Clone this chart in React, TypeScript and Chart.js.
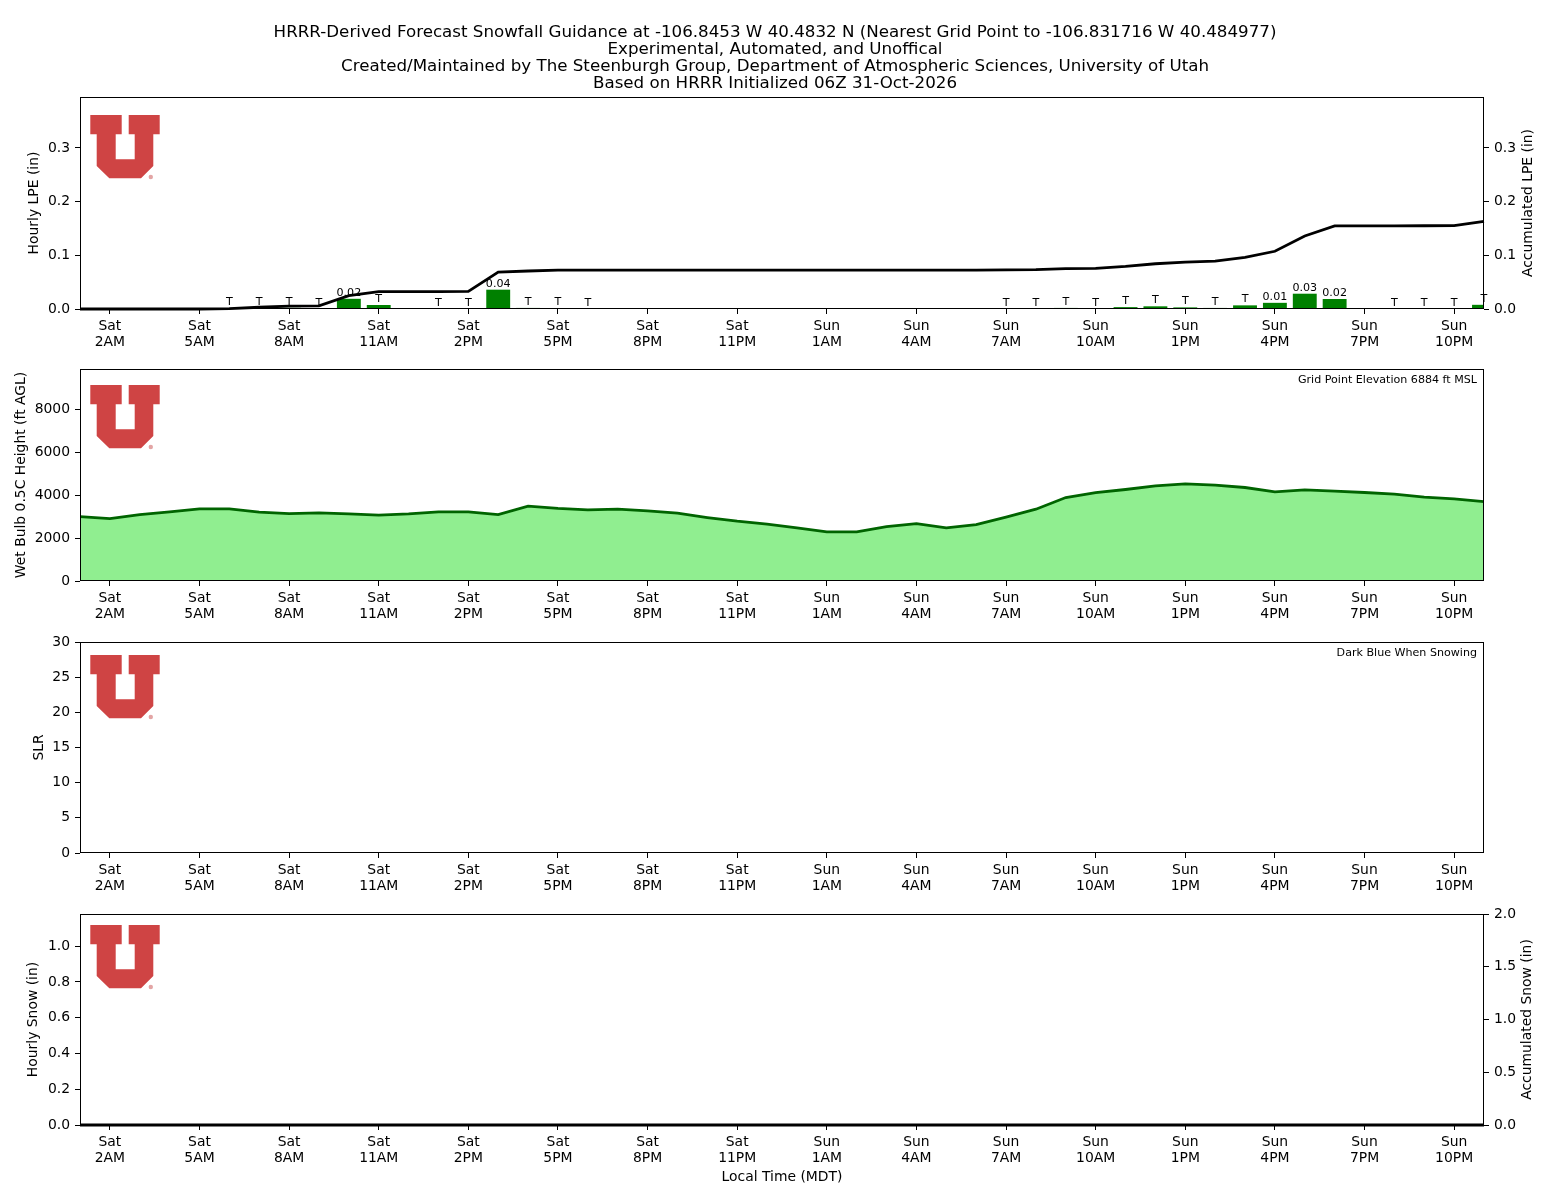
import { useEffect, useRef } from "react";
import { Chart, registerables } from "chart.js";

Chart.register(...registerables);

const FONT_FAMILY = "'DejaVu Sans', 'Liberation Sans', sans-serif";
Chart.defaults.font.family = FONT_FAMILY;
Chart.defaults.color = "#000";

// ---- data -------------------------------------------------------------

// Forecast hours f01..f48 (local Sat 1AM through the end of Sunday)
const forecastHours = [
  1, 2, 3, 4, 5, 6, 7, 8, 9, 10, 11, 12, 13, 14, 15, 16, 17, 18, 19, 20, 21, 22, 23, 24,
  25, 26, 27, 28, 29, 30, 31, 32, 33, 34, 35, 36, 37, 38, 39, 40, 41, 42, 43, 44, 45, 46, 47, 48,
];

const tickHours = [2, 5, 8, 11, 14, 17, 20, 23, 26, 29, 32, 35, 38, 41, 44, 47];
const tickLabels = [
  ["Sat", "2AM"], ["Sat", "5AM"], ["Sat", "8AM"], ["Sat", "11AM"],
  ["Sat", "2PM"], ["Sat", "5PM"], ["Sat", "8PM"], ["Sat", "11PM"],
  ["Sun", "1AM"], ["Sun", "4AM"], ["Sun", "7AM"], ["Sun", "10AM"],
  ["Sun", "1PM"], ["Sun", "4PM"], ["Sun", "7PM"], ["Sun", "10PM"],
];

// Hourly liquid precipitation equivalent (in)
const hourlyLpe = [
  0, 0, 0, 0, 0, 0.0008, 0.0025, 0.0022, 0.0003, 0.019,
  0.0075, 0, 0.0002, 0.0003, 0.036, 0.002, 0.0015, 0.0003, 0, 0,
  0, 0, 0, 0, 0, 0, 0, 0, 0, 0,
  0, 0.0003, 0.0004, 0.002, 0.0005, 0.0035, 0.005, 0.003, 0.002, 0.0068,
  0.0115, 0.0285, 0.0186, 0, 0.0002, 0.0002, 0.0003, 0.0078,
];

// Accumulated liquid precipitation equivalent (in)
const accLpe = [
  0, 0, 0, 0, 0, 0.0008, 0.0033, 0.0055, 0.0058, 0.0248,
  0.0323, 0.0323, 0.0325, 0.0328, 0.0688, 0.0708, 0.0723, 0.0726, 0.0726, 0.0726,
  0.0726, 0.0726, 0.0726, 0.0726, 0.0726, 0.0726, 0.0726, 0.0726, 0.0726, 0.0726,
  0.0726, 0.0729, 0.0733, 0.0753, 0.0758, 0.0793, 0.0843, 0.0873, 0.0893, 0.0961,
  0.1076, 0.1361, 0.1547, 0.1547, 0.1549, 0.1551, 0.1554, 0.1632,
];

// Height of the 0.5C wet-bulb level above ground (ft)
const wetBulbHeight = [
  3010, 2916, 3100, 3230, 3370, 3368, 3212, 3150, 3181, 3134,
  3072, 3134, 3228, 3228, 3103, 3493, 3390, 3322, 3353, 3275,
  3166, 2963, 2791, 2651, 2480, 2292, 2292, 2542, 2682, 2480,
  2635, 2979, 3353, 3899, 4132, 4273, 4444, 4538, 4476, 4366,
  4164, 4257, 4195, 4133, 4055, 3914, 3836, 3711,
];

// Snow-to-liquid ratio (only defined while snowing)
const slrValues = [
  null, null, null, null, null, null, null, null, null, null, null, null,
  null, null, null, null, null, null, null, null, null, null, null, null,
  null, null, null, null, null, null, null, null, null, null, null, null,
  null, null, null, null, null, null, null, null, null, null, null, null,
];

// Hourly and accumulated snowfall (in)
const hourlySnow = [
  0, 0, 0, 0, 0, 0, 0, 0, 0, 0, 0, 0, 0, 0, 0, 0, 0, 0, 0, 0, 0, 0, 0, 0,
  0, 0, 0, 0, 0, 0, 0, 0, 0, 0, 0, 0, 0, 0, 0, 0, 0, 0, 0, 0, 0, 0, 0, 0,
];
const accSnow = [
  0, 0, 0, 0, 0, 0, 0, 0, 0, 0, 0, 0, 0, 0, 0, 0, 0, 0, 0, 0, 0, 0, 0, 0,
  0, 0, 0, 0, 0, 0, 0, 0, 0, 0, 0, 0, 0, 0, 0, 0, 0, 0, 0, 0, 0, 0, 0, 0,
];

const lpeTicks = [0, 0.1, 0.2, 0.3];
const wetBulbTicks = [0, 2000, 4000, 6000, 8000];
const slrTicks = [0, 5, 10, 15, 20, 25, 30];
const snowTicks = [0, 0.2, 0.4, 0.6, 0.8, 1.0];
const accSnowTicks = [0, 0.5, 1.0, 1.5, 2.0];

const titleLines = [
  "HRRR-Derived Forecast Snowfall Guidance at -106.8453 W 40.4832 N (Nearest Grid Point to -106.831716 W 40.484977)",
  "Experimental, Automated, and Unoffical",
  "Created/Maintained by The Steenburgh Group, Department of Atmospheric Sciences, University of Utah",
  "Based on HRRR Initialized 06Z 31-Oct-2026",
];

// ---- helpers ----------------------------------------------------------

const TEXT = 13.9;
const SMALL = 11.1;

const points = (values: (number | null)[]) =>
  forecastHours.map((h, i) => ({ x: h, y: values[i] }));

function xScale(withTitle: boolean) {
  return {
    type: "linear",
    min: 1,
    max: 48,
    offset: false,
    afterBuildTicks: (s: any) => {
      s.ticks = tickHours.map((v) => ({ value: v }));
    },
    afterFit: (s: any) => {
      s.height = withTitle ? 70 : 50;
    },
    ticks: {
      autoSkip: false,
      maxRotation: 0,
      minRotation: 0,
      padding: 4,
      color: "#000",
      font: { size: TEXT, lineHeight: 1.15 },
      callback: (_v: any, i: number) => tickLabels[i],
    },
    grid: {
      display: true,
      drawOnChartArea: false,
      drawTicks: true,
      tickLength: 5,
      color: "#000",
      offset: false,
    },
    border: { display: false },
    title: withTitle
      ? {
          display: true,
          text: "Local Time (MDT)",
          color: "#000",
          font: { size: TEXT, lineHeight: 1.2 },
          padding: { top: 0, bottom: 9.7 },
        }
      : { display: false },
  };
}

function yScale(
  position: string,
  max: number,
  ticks: number[],
  fmt: (v: number) => string,
  title: string | null,
  titlePad: number,
  width: number
) {
  return {
    type: "linear",
    position,
    min: 0,
    max,
    afterBuildTicks: (s: any) => {
      s.ticks = ticks.map((v) => ({ value: v }));
    },
    afterFit: (s: any) => {
      s.width = width;
    },
    ticks: {
      padding: 5,
      color: "#000",
      font: { size: TEXT },
      callback: (v: any) => fmt(Number(v)),
    },
    grid: {
      display: true,
      drawOnChartArea: false,
      drawTicks: true,
      tickLength: 5,
      color: "#000",
    },
    border: { display: false },
    title: title
      ? {
          display: true,
          text: title,
          color: "#000",
          font: { size: TEXT, lineHeight: 1.2 },
          padding: { top: titlePad, bottom: 0 },
        }
      : { display: false },
  };
}

// ---- plugins ----------------------------------------------------------

const framePlugin = {
  id: "frame",
  afterDraw(chart: any) {
    const { ctx, chartArea: a } = chart;
    ctx.save();
    ctx.strokeStyle = "#000";
    ctx.lineWidth = 1;
    ctx.strokeRect(a.left + 0.5, a.top + 0.5, a.right - a.left - 1, a.bottom - a.top - 1);
    ctx.restore();
  },
};

const logoPlugin = {
  id: "uLogo",
  afterDraw(chart: any, _args: any, opts: any) {
    const { ctx, chartArea: a } = chart;
    const ox = a.left + 10.3;
    const oy = a.top + (opts.dy ?? 13);
    const outline = [
      [0, 0], [31.4, 0], [31.4, 19.3], [25.4, 19.3], [25.4, 44.3], [44.4, 44.3],
      [44.4, 19.3], [38.4, 19.3], [38.4, 0], [69.4, 0], [69.4, 19.3], [63, 19.3],
      [63, 51], [50.7, 63.3], [19, 63.3], [6.4, 51], [6.4, 19.3], [0, 19.3],
    ];
    ctx.save();
    ctx.beginPath();
    outline.forEach(([px, py], i) => {
      if (i === 0) ctx.moveTo(ox + px, oy + py);
      else ctx.lineTo(ox + px, oy + py);
    });
    ctx.closePath();
    ctx.fillStyle = "#cf4444";
    ctx.fill();
    ctx.beginPath();
    ctx.arc(ox + 60.5, oy + 62, 2.2, 0, Math.PI * 2);
    ctx.fillStyle = "#e3a5a5";
    ctx.fill();
    ctx.restore();
  },
};

const notePlugin = {
  id: "cornerNote",
  afterDraw(chart: any, _args: any, opts: any) {
    if (!opts.text) return;
    const { ctx, chartArea: a } = chart;
    ctx.save();
    ctx.font = `${SMALL}px ${FONT_FAMILY}`;
    ctx.fillStyle = "#000";
    ctx.textAlign = "right";
    ctx.textBaseline = "middle";
    ctx.fillText(opts.text, a.right - 7, a.top + 11.5);
    ctx.restore();
  },
};

// Right-hand axis title reading bottom-to-top
const sideTitlePlugin = {
  id: "sideTitle",
  afterDraw(chart: any, _args: any, opts: any) {
    if (!opts.text) return;
    const { ctx, chartArea: a } = chart;
    ctx.save();
    ctx.translate(opts.x, (a.top + a.bottom) / 2);
    ctx.rotate(-Math.PI / 2);
    ctx.font = `${TEXT}px ${FONT_FAMILY}`;
    ctx.fillStyle = "#000";
    ctx.textAlign = "center";
    ctx.textBaseline = "middle";
    ctx.fillText(opts.text, 0, 0);
    ctx.restore();
  },
};

// Value / trace labels above the hourly LPE bars
const barLabelPlugin = {
  id: "barLabels",
  afterDatasetDraw(chart: any, args: any) {
    if (args.meta.type !== "bar") return;
    const { ctx } = chart;
    ctx.save();
    ctx.font = `${SMALL}px ${FONT_FAMILY}`;
    ctx.fillStyle = "#000";
    ctx.textAlign = "center";
    ctx.textBaseline = "bottom";
    args.meta.data.forEach((el: any, i: number) => {
      const v = hourlyLpe[i];
      if (!(v > 0)) return;
      const label = v >= 0.01 ? v.toFixed(2) : "T";
      ctx.fillText(label, el.x, el.y - 0.5);
    });
    ctx.restore();
  },
};

const basePlugins = [framePlugin, logoPlugin, notePlugin, sideTitlePlugin];

const commonOptions = {
  responsive: false,
  animation: false,
  events: [],
};

// ---- chart configs ----------------------------------------------------

function lpeConfig() {
  return {
    type: "bar",
    data: {
      datasets: [
        {
          type: "line",
          data: points(accLpe),
          yAxisID: "y2",
          borderColor: "#000",
          borderWidth: 2.8,
          pointRadius: 0,
          tension: 0,
          fill: false,
          clip: false,
          order: 0,
        },
        {
          type: "bar",
          data: points(hourlyLpe),
          yAxisID: "y",
          backgroundColor: "#008000",
          borderWidth: 0,
          categoryPercentage: 1,
          barPercentage: 0.8,
          order: 1,
        },
      ],
    },
    options: {
      ...commonOptions,
      layout: { padding: { top: 0, left: 0, right: 0, bottom: 0 } },
      scales: {
        x: xScale(false),
        y: yScale("left", 0.395, lpeTicks, (v) => v.toFixed(1), "Hourly LPE (in)", 25.7, 80),
        y2: yScale("right", 0.395, lpeTicks, (v) => v.toFixed(1), null, 0, 66),
      },
      plugins: {
        legend: { display: false },
        tooltip: { enabled: false },
        title: {
          display: true,
          text: titleLines,
          color: "#000",
          font: { size: 16.7, weight: "normal", lineHeight: "17px" },
          padding: { top: 24, bottom: 5 },
        },
        uLogo: { dy: 18 },
        sideTitle: { text: "Accumulated LPE (in)", x: 1528 },
      },
    },
    plugins: [...basePlugins, barLabelPlugin],
  };
}

function wetBulbConfig() {
  return {
    type: "line",
    data: {
      datasets: [
        {
          data: points(wetBulbHeight),
          borderColor: "#006400",
          backgroundColor: "#90ee90",
          borderWidth: 2.8,
          pointRadius: 0,
          tension: 0,
          fill: "origin",
        },
      ],
    },
    options: {
      ...commonOptions,
      layout: { padding: { top: 20, left: 0, right: 66, bottom: 0 } },
      scales: {
        x: xScale(false),
        y: yScale("left", 9900, wetBulbTicks, (v) => String(v), "Wet Bulb 0.5C Height (ft AGL)", 13.2, 80),
      },
      plugins: {
        legend: { display: false },
        tooltip: { enabled: false },
        uLogo: { dy: 16 },
        cornerNote: { text: "Grid Point Elevation 6884 ft MSL" },
      },
    },
    plugins: basePlugins,
  };
}

function slrConfig() {
  return {
    type: "line",
    data: {
      datasets: [
        {
          data: points(slrValues),
          showLine: false,
          pointRadius: 4,
          backgroundColor: "#00008b",
          borderColor: "#00008b",
        },
      ],
    },
    options: {
      ...commonOptions,
      layout: { padding: { top: 20, left: 0, right: 66, bottom: 0 } },
      scales: {
        x: xScale(false),
        y: yScale("left", 30, slrTicks, (v) => String(v), "SLR", 31.3, 80),
      },
      plugins: {
        legend: { display: false },
        tooltip: { enabled: false },
        uLogo: { dy: 13 },
        cornerNote: { text: "Dark Blue When Snowing" },
      },
    },
    plugins: basePlugins,
  };
}

function snowConfig() {
  return {
    type: "bar",
    data: {
      datasets: [
        {
          type: "line",
          data: points(accSnow),
          yAxisID: "y2",
          borderColor: "#000",
          borderWidth: 2.8,
          pointRadius: 0,
          tension: 0,
          fill: false,
          clip: false,
          order: 0,
        },
        {
          type: "bar",
          data: points(hourlySnow),
          yAxisID: "y",
          backgroundColor: "#00008b",
          borderWidth: 0,
          categoryPercentage: 1,
          barPercentage: 0.8,
          order: 1,
        },
      ],
    },
    options: {
      ...commonOptions,
      layout: { padding: { top: 20, left: 0, right: 0, bottom: 0 } },
      scales: {
        x: xScale(true),
        y: yScale("left", 1.18, snowTicks, (v) => v.toFixed(1), "Hourly Snow (in)", 25.5, 80),
        y2: yScale("right", 2.0, accSnowTicks, (v) => v.toFixed(1), null, 0, 66),
      },
      plugins: {
        legend: { display: false },
        tooltip: { enabled: false },
        uLogo: { dy: 11 },
        sideTitle: { text: "Accumulated Snow (in)", x: 1527.5 },
      },
    },
    plugins: basePlugins,
  };
}

// ---- components -------------------------------------------------------

function Panel({ top, height, build }: { top: number; height: number; build: () => any }) {
  const ref = useRef<HTMLCanvasElement>(null);
  useEffect(() => {
    if (!ref.current) return;
    const chart = new Chart(ref.current, build());
    return () => chart.destroy();
  }, [build]);
  return (
    <canvas
      ref={ref}
      width={1550}
      height={height}
      style={{ position: "absolute", left: 0, top, width: 1550, height, display: "block" }}
    />
  );
}

export default function App() {
  return (
    <div
      style={{
        position: "absolute",
        left: 0,
        top: 0,
        width: 1550,
        height: 1200,
        background: "#fff",
        overflow: "hidden",
      }}
    >
      <Panel top={0} height={359} build={lpeConfig} />
      <Panel top={349} height={282} build={wetBulbConfig} />
      <Panel top={622} height={281} build={slrConfig} />
      <Panel top={894} height={301} build={snowConfig} />
    </div>
  );
}
